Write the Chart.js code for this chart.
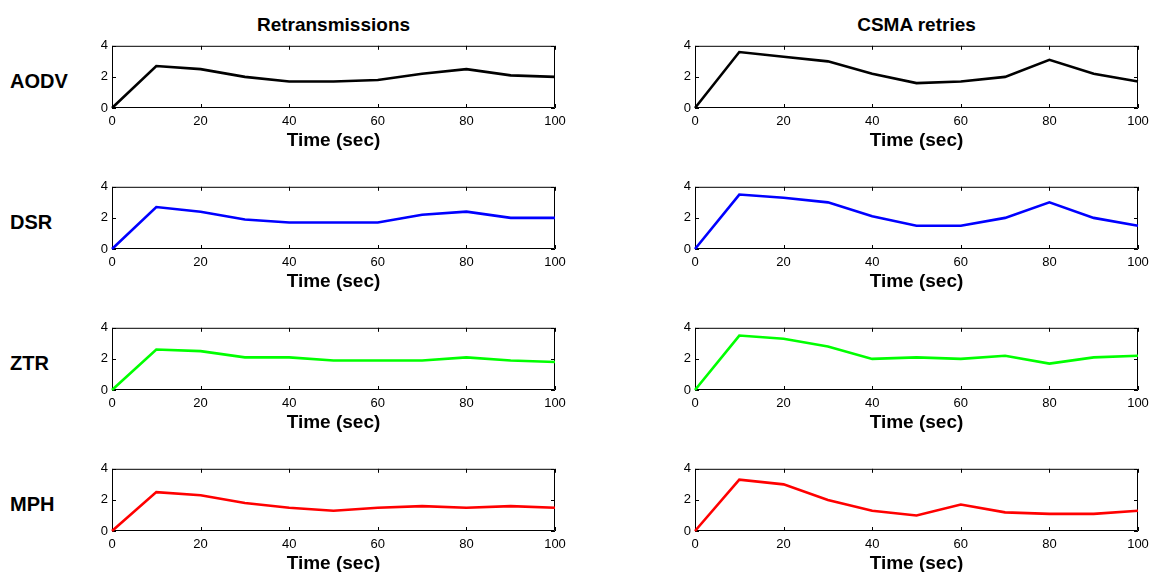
<!DOCTYPE html>
<html>
<head>
<meta charset="utf-8">
<script src="https://cdn.jsdelivr.net/npm/chart.js@4.4.1/dist/chart.umd.min.js"></script>
<style>
  html, body { margin: 0; padding: 0; background: #fff; }
  body { width: 1152px; height: 572px; position: relative; overflow: hidden; font-family: "Liberation Sans", Arial, sans-serif; }
  canvas { position: absolute; }
  .lbl { position: absolute; font-weight: bold; color: #000; white-space: nowrap; line-height: 1; }
</style>
</head>
<body>
<script>
// ---- Data ----
const times = [0, 10, 20, 30, 40, 50, 60, 70, 80, 90, 100];
const columnTitles = ['Retransmissions', 'CSMA retries'];
const protocols = ['AODV', 'DSR', 'ZTR', 'MPH'];
const xTicks = [0, 20, 40, 60, 80, 100];
const yTicks = [0, 2, 4];
const xAxisTitle = 'Time (sec)';

const aodvRetrans = [0, 2.7, 2.5, 2.0, 1.7, 1.7, 1.8, 2.2, 2.5, 2.1, 2.0];
const aodvCsma    = [0, 3.6, 3.3, 3.0, 2.2, 1.6, 1.7, 2.0, 3.1, 2.2, 1.7];
const dsrRetrans  = [0, 2.7, 2.4, 1.9, 1.7, 1.7, 1.7, 2.2, 2.4, 2.0, 2.0];
const dsrCsma     = [0, 3.5, 3.3, 3.0, 2.1, 1.5, 1.5, 2.0, 3.0, 2.0, 1.5];
const ztrRetrans  = [0, 2.6, 2.5, 2.1, 2.1, 1.9, 1.9, 1.9, 2.1, 1.9, 1.8];
const ztrCsma     = [0, 3.5, 3.3, 2.8, 2.0, 2.1, 2.0, 2.2, 1.7, 2.1, 2.2];
const mphRetrans  = [0, 2.5, 2.3, 1.8, 1.5, 1.3, 1.5, 1.6, 1.5, 1.6, 1.5];
const mphCsma     = [0, 3.3, 3.0, 2.0, 1.3, 1.0, 1.7, 1.2, 1.1, 1.1, 1.3];

const seriesByRow = [
  [aodvRetrans, aodvCsma],
  [dsrRetrans, dsrCsma],
  [ztrRetrans, ztrCsma],
  [mphRetrans, mphCsma]
];
const rowColors = ['#000000', '#0000ff', '#00ff00', '#ff0000'];

// ---- Layout ----
const colLeft = [112, 695];
const rowTop = [44, 185, 326, 467];
const plotW = 443, plotH = 64;
const padL = 40, padT = 10, padR = 20, padB = 50;
const FONT = '"Liberation Sans", Arial, sans-serif';

// column titles
columnTitles.forEach((t, c) => {
  const d = document.createElement('div');
  d.className = 'lbl';
  d.textContent = t;
  d.style.fontSize = '19px';
  d.style.left = (colLeft[c] + plotW / 2) + 'px';
  d.style.top = '15px';
  d.style.transform = 'translateX(-50%)';
  document.body.appendChild(d);
});
// row labels
protocols.forEach((p, r) => {
  const d = document.createElement('div');
  d.className = 'lbl';
  d.textContent = p;
  d.style.fontSize = '20px';
  d.style.left = '10px';
  d.style.top = (rowTop[r] + plotH / 2 - 5) + 'px';
  document.body.appendChild(d);
});

const boxPlugin = {
  id: 'matlabBox',
  beforeDatasetsDraw(chart) {
    const {ctx, chartArea: a, scales} = chart;
    ctx.save();
    ctx.strokeStyle = '#000';
    ctx.lineWidth = 1;
    ctx.beginPath();
    ctx.rect(a.left + 0.5, a.top + 0.5, a.right - a.left - 1, a.bottom - a.top - 1);
    ctx.stroke();
    const tl = 4;
    ctx.beginPath();
    xTicks.forEach(v => {
      const px = Math.round(scales.x.getPixelForValue(v)) + 0.5;
      ctx.moveTo(px, a.bottom); ctx.lineTo(px, a.bottom - tl);
      ctx.moveTo(px, a.top); ctx.lineTo(px, a.top + tl);
    });
    yTicks.forEach(v => {
      const py = Math.round(scales.y.getPixelForValue(v)) + 0.5;
      ctx.moveTo(a.left, py); ctx.lineTo(a.left + tl, py);
      ctx.moveTo(a.right, py); ctx.lineTo(a.right - tl, py);
    });
    ctx.stroke();
    ctx.restore();
  }
};

for (let r = 0; r < 4; r++) {
  for (let c = 0; c < 2; c++) {
    const cv = document.createElement('canvas');
    const w = plotW + padL + padR, h = plotH + padT + padB;
    cv.width = w; cv.height = h;
    cv.style.width = w + 'px'; cv.style.height = h + 'px';
    cv.style.left = (colLeft[c] - padL) + 'px';
    cv.style.top = (rowTop[r] - padT) + 'px';
    document.body.appendChild(cv);
    const vals = seriesByRow[r][c];
    new Chart(cv, {
      type: 'line',
      data: {
        datasets: [{
          data: times.map((t, i) => ({x: t, y: vals[i]})),
          borderColor: rowColors[r],
          borderWidth: 2.6,
          pointRadius: 0,
          fill: false,
          tension: 0,
          clip: false
        }]
      },
      options: {
        responsive: false,
        animation: false,
        devicePixelRatio: 1,
        layout: { padding: { top: padT, right: padR, left: 0, bottom: 0 } },
        plugins: { legend: { display: false }, tooltip: { enabled: false }, title: { display: false } },
        scales: {
          x: {
            type: 'linear', min: 0, max: 100,
            afterFit(s) { s.height = padB; },
            afterBuildTicks(s) { s.ticks = xTicks.map(v => ({value: v})); },
            grid: { display: false, drawTicks: false },
            border: { display: false },
            ticks: { color: '#000', padding: 6, maxRotation: 0, autoSkip: false, font: { family: FONT, size: 13 } },
            title: { display: true, text: xAxisTitle, color: '#000', font: { family: FONT, size: 19, weight: 'bold' }, padding: { top: 0, bottom: 6 } }
          },
          y: {
            min: 0, max: 4,
            afterFit(s) { s.width = padL; },
            afterBuildTicks(s) { s.ticks = yTicks.map(v => ({value: v})); },
            grid: { display: false, drawTicks: false },
            border: { display: false },
            ticks: { color: '#000', padding: 4, font: { family: FONT, size: 13 } }
          }
        }
      },
      plugins: [boxPlugin]
    });
  }
}
</script>
</body>
</html>
